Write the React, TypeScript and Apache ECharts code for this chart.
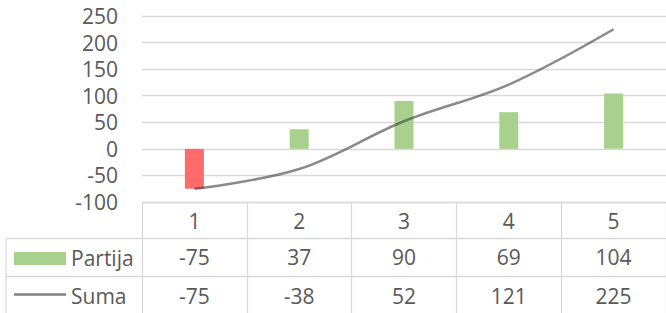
import React, { useEffect, useRef } from "react";
import * as echarts from "echarts";

const categories = ["1", "2", "3", "4", "5"];
const partija = [-75, 37, 90, 69, 104];
const suma = [-75, -38, 52, 121, 225];
const seriesNames = ["Partija", "Suma"];
const yMin = -100;
const yMax = 250;
const yInterval = 50;

const FONT = "'Open Sans', 'Liberation Sans', sans-serif";
const TXT = "#595959";
const LINEC = "#d9d9d9";
const GREEN = "#a9d18e";
const RED = "#ff6b6b";

export default function App() {
  const ref = useRef<HTMLDivElement>(null);
  useEffect(() => {
    if (!ref.current) return;
    const chart = echarts.init(ref.current, null, { renderer: "svg" });
    const gridTop = 16;
    const gridBottomY = 202;
    const H = 313;
    const rowTexts = [partija, suma];
    const extraAxes = rowTexts.map((vals, k) => ({
      type: "category",
      data: categories,
      position: "bottom",
      gridIndex: 0,
      axisLine: { show: false, onZero: false },
      axisTick: { show: false },
      splitLine: { show: false },
      axisLabel: {
        margin: k === 0 ? 44 : 83,
        fontSize: 21,
        fontFamily: FONT,
        color: TXT,
        formatter: (_v: string, i: number) => String(vals[i]),
      },
    }));
    chart.setOption({
      animation: false,
      grid: { left: 142, right: -2, top: gridTop, bottom: H - gridBottomY },
      xAxis: [
        {
          type: "category",
          data: categories,
          position: "bottom",
          axisLine: { show: true, onZero: false, lineStyle: { color: LINEC, width: 1.3 } },
          axisTick: { show: true, length: 120, lineStyle: { color: LINEC, width: 1.3 } },
          splitLine: { show: false },
          axisLabel: { margin: 8, fontSize: 21, fontFamily: FONT, color: TXT },
        },
        ...extraAxes,
      ],
      yAxis: {
        type: "value",
        min: yMin,
        max: yMax,
        interval: yInterval,
        axisLine: { show: false },
        axisTick: { show: false },
        splitLine: { lineStyle: { color: LINEC, width: 1.3 } },
        axisLabel: { margin: 24, fontSize: 21, fontFamily: FONT, color: TXT },
      },
      series: [
        {
          name: seriesNames[0],
          type: "bar",
          barWidth: 19,
          data: partija.map((v) => ({
            value: v,
            itemStyle: { color: v < 0 ? RED : GREEN },
          })),
          z: 2,
        },
        {
          name: seriesNames[1],
          type: "line",
          smooth: 0.35,
          showSymbol: false,
          symbol: "none",
          data: suma,
          lineStyle: { color: "rgba(60,60,60,0.6)", width: 2.5 },
          z: 3,
        },
      ],
      graphic: [
        { type: "line", shape: { x1: 6, y1: 238.5, x2: 666, y2: 238.5 }, style: { stroke: LINEC, lineWidth: 1.3 } },
        { type: "line", shape: { x1: 6, y1: 276.5, x2: 666, y2: 276.5 }, style: { stroke: LINEC, lineWidth: 1.3 } },
        { type: "line", shape: { x1: 6, y1: 238.5, x2: 6, y2: 313 }, style: { stroke: LINEC, lineWidth: 1.3 } },
        { type: "rect", shape: { x: 14, y: 252, width: 52, height: 13 }, style: { fill: GREEN } },
        { type: "line", shape: { x1: 14, y1: 294.5, x2: 66, y2: 294.5 }, style: { stroke: "#808080", lineWidth: 2.5 } },
        {
          type: "text",
          x: 71,
          y: 258,
          style: { text: seriesNames[0], font: `21px ${FONT}`, fill: TXT, verticalAlign: "middle" },
        },
        {
          type: "text",
          x: 71,
          y: 296,
          style: { text: seriesNames[1], font: `21px ${FONT}`, fill: TXT, verticalAlign: "middle" },
        },
      ],
    });
    return () => chart.dispose();
  }, []);
  return (
    <div
      ref={ref}
      style={{ position: "fixed", left: 0, top: 0, width: 666, height: 313, background: "#fff" }}
    />
  );
}
